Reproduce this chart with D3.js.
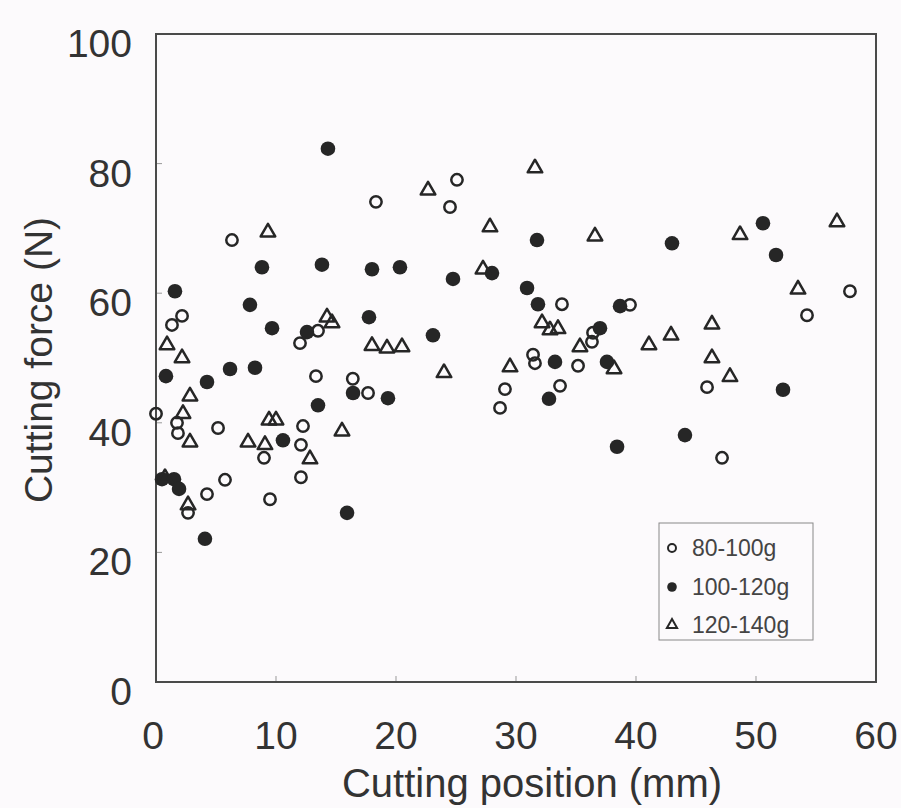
<!DOCTYPE html>
<html>
<head>
<meta charset="utf-8">
<script src="https://cdn.jsdelivr.net/npm/d3@7"></script>
<style>
  html, body { margin: 0; padding: 0; background: #fcfafc; }
  svg { display: block; }
  text { font-family: "Liberation Sans", Arial, sans-serif; fill: #333; }
</style>
</head>
<body>
<div id="chart"></div>
<script>
// cutting position (mm), cutting force (N) for each weight class
let pos_80 = [0.0, 1.33, 2.17, 1.75, 1.83, 5.17, 5.75, 4.25, 9.5, 2.67, 9.0, 13.33, 12.25, 12.08, 12.08, 12.0, 13.5, 16.4, 17.67, 6.33, 18.33, 25.08, 24.5, 33.83, 31.42, 31.58, 35.17, 33.67, 29.08, 28.67, 36.42, 36.33, 39.5, 45.92, 47.17, 54.25, 57.83];
let force_80 = [41.4, 55.1, 56.5, 40.0, 38.4, 39.2, 31.2, 29.0, 28.2, 26.1, 34.6, 47.2, 39.5, 36.6, 31.6, 52.3, 54.2, 46.8, 44.6, 68.2, 74.1, 77.5, 73.3, 58.3, 50.5, 49.2, 48.8, 45.7, 45.2, 42.3, 53.9, 52.5, 58.2, 45.5, 34.6, 56.6, 60.3];

let pos_100 = [0.5, 1.5, 1.92, 4.08, 15.92, 0.83, 4.25, 6.17, 8.25, 1.58, 7.83, 9.67, 8.83, 13.83, 13.5, 10.58, 12.58, 14.33, 18.0, 20.33, 24.75, 28.0, 30.92, 31.83, 31.75, 17.75, 23.08, 33.25, 37.0, 37.58, 38.67, 16.42, 19.33, 32.75, 38.42, 44.08, 43.0, 50.58, 51.67, 52.25];
let force_100 = [31.3, 31.3, 29.8, 22.1, 26.1, 47.2, 46.3, 48.3, 48.5, 60.3, 58.2, 54.6, 64.0, 64.4, 42.7, 37.3, 54.0, 82.3, 63.7, 64.0, 62.2, 63.1, 60.8, 58.3, 68.2, 56.3, 53.5, 49.4, 54.6, 49.4, 58.0, 44.6, 43.8, 43.7, 36.3, 38.1, 67.7, 70.8, 65.9, 45.1];

let pos_120 = [0.75, 2.67, 0.92, 2.17, 2.83, 2.25, 2.83, 7.67, 9.08, 9.42, 10.0, 12.83, 15.5, 9.33, 14.25, 14.67, 18.0, 19.25, 20.5, 24.0, 22.67, 31.58, 27.83, 27.25, 36.58, 29.5, 32.17, 32.83, 33.5, 35.33, 38.17, 41.08, 42.92, 46.33, 46.33, 47.83, 48.67, 53.5, 56.75];
let force_120 = [31.5, 27.3, 52.0, 50.0, 44.1, 41.4, 37.0, 37.0, 36.6, 40.4, 40.4, 34.4, 38.7, 69.4, 56.3, 55.4, 51.9, 51.5, 51.7, 47.7, 75.9, 79.3, 70.2, 63.7, 68.8, 48.6, 55.4, 54.3, 54.5, 51.7, 48.3, 52.0, 53.5, 55.2, 50.0, 47.1, 69.0, 60.6, 71.0];

let x_ticks = [0, 10, 20, 30, 40, 50, 60];
let y_ticks = [0, 20, 40, 60, 80, 100];
let series_names = ["80-100g", "100-120g", "120-140g"];

let svg_width = 901;
let svg_height = 808;
let ink = "#262626";

let svg = d3.select("#chart")
    .append("svg")
    .attr("width", svg_width)
    .attr("height", svg_height);

let x_scale = d3.scaleLinear()
    .domain([0, 60])
    .range([156, 876]);
let y_scale = d3.scaleLinear()
    .domain([0, 100])
    .range([682, 34]);

// inner ticks
svg.selectAll(".xtick")
    .data(x_ticks.slice(1, -1))
    .enter()
    .append("line")
    .attr("x1", d => x_scale(d))
    .attr("x2", d => x_scale(d))
    .attr("y1", y_scale(0))
    .attr("y2", y_scale(0) - 6)
    .attr("stroke", "#999")
    .attr("stroke-width", 1);
svg.selectAll(".ytick")
    .data(y_ticks.slice(1, -1))
    .enter()
    .append("line")
    .attr("x1", x_scale(0))
    .attr("x2", x_scale(0) + 6)
    .attr("y1", d => y_scale(d))
    .attr("y2", d => y_scale(d))
    .attr("stroke", "#999")
    .attr("stroke-width", 1);

// frame
svg.append("rect")
    .attr("x", x_scale(0))
    .attr("y", y_scale(100))
    .attr("width", x_scale(60) - x_scale(0))
    .attr("height", y_scale(0) - y_scale(100))
    .attr("fill", "none")
    .attr("stroke", "#4a4a4a")
    .attr("stroke-width", 2);

// tick labels
svg.selectAll(".xlab")
    .data(x_ticks)
    .enter()
    .append("text")
    .attr("x", d => x_scale(d) - (d == 0 ? 3 : 0))
    .attr("y", 749)
    .attr("text-anchor", "middle")
    .style("font-size", "39px")
    .text(d => d);
svg.selectAll(".ylab")
    .data(y_ticks)
    .enter()
    .append("text")
    .attr("x", 132)
    .attr("y", d => y_scale(d) + 23)
    .attr("text-anchor", "end")
    .style("font-size", "39px")
    .text(d => d);

// axis titles
svg.append("text")
    .attr("x", 532)
    .attr("y", 797)
    .attr("text-anchor", "middle")
    .style("font-size", "40px")
    .text("Cutting position (mm)");
svg.append("text")
    .attr("transform", "translate(52," + 360 + ") rotate(-90)")
    .attr("text-anchor", "middle")
    .style("font-size", "39px")
    .text("Cutting force (N)");

let tri = d3.symbol().type(d3.symbolTriangle);

function draw_open_circles(xs, ys, r, g) {
    g.selectAll("circle.o")
        .data(xs)
        .enter()
        .append("circle")
        .attr("cx", d => x_scale(d))
        .attr("cy", (d, i) => y_scale(ys[i]))
        .attr("r", r)
        .attr("fill", "none")
        .attr("stroke", ink)
        .attr("stroke-width", 2.5);
}

function draw_filled_circles(xs, ys, r, g) {
    g.selectAll("circle.f")
        .data(xs)
        .enter()
        .append("circle")
        .attr("cx", d => x_scale(d))
        .attr("cy", (d, i) => y_scale(ys[i]))
        .attr("r", r)
        .attr("fill", ink);
}

function draw_triangles(xs, ys, size, g) {
    g.selectAll("path.t")
        .data(xs)
        .enter()
        .append("path")
        .attr("d", tri.size(size)())
        .attr("transform", (d, i) => "translate(" + x_scale(d) + "," + y_scale(ys[i]) + ")")
        .attr("fill", "none")
        .attr("stroke", ink)
        .attr("stroke-width", 2.5)
        .attr("stroke-linejoin", "round");
}

draw_open_circles(pos_80, force_80, 5.7, svg.append("g"));
draw_filled_circles(pos_100, force_100, 7.3, svg.append("g"));
draw_triangles(pos_120, force_120, 92, svg.append("g"));

// legend
let lg = svg.append("g");
lg.append("rect")
    .attr("x", 659)
    .attr("y", 523)
    .attr("width", 154)
    .attr("height", 117)
    .attr("fill", "none")
    .attr("stroke", "#888")
    .attr("stroke-width", 1);
let lg_y = [548, 587, 625];
lg.append("circle")
    .attr("cx", 672).attr("cy", lg_y[0]).attr("r", 4)
    .attr("fill", "none").attr("stroke", ink).attr("stroke-width", 2);
lg.append("circle")
    .attr("cx", 672).attr("cy", lg_y[1]).attr("r", 4.8)
    .attr("fill", ink);
lg.append("path")
    .attr("d", tri.size(45)())
    .attr("transform", "translate(672," + lg_y[2] + ")")
    .attr("fill", "none").attr("stroke", ink).attr("stroke-width", 2);
lg.selectAll(".lgtext")
    .data(series_names)
    .enter()
    .append("text")
    .attr("x", 692)
    .attr("y", (d, i) => lg_y[i] + 8)
    .style("font-size", "23px")
    .style("fill", "#444")
    .text(d => d);
</script>
</body>
</html>
